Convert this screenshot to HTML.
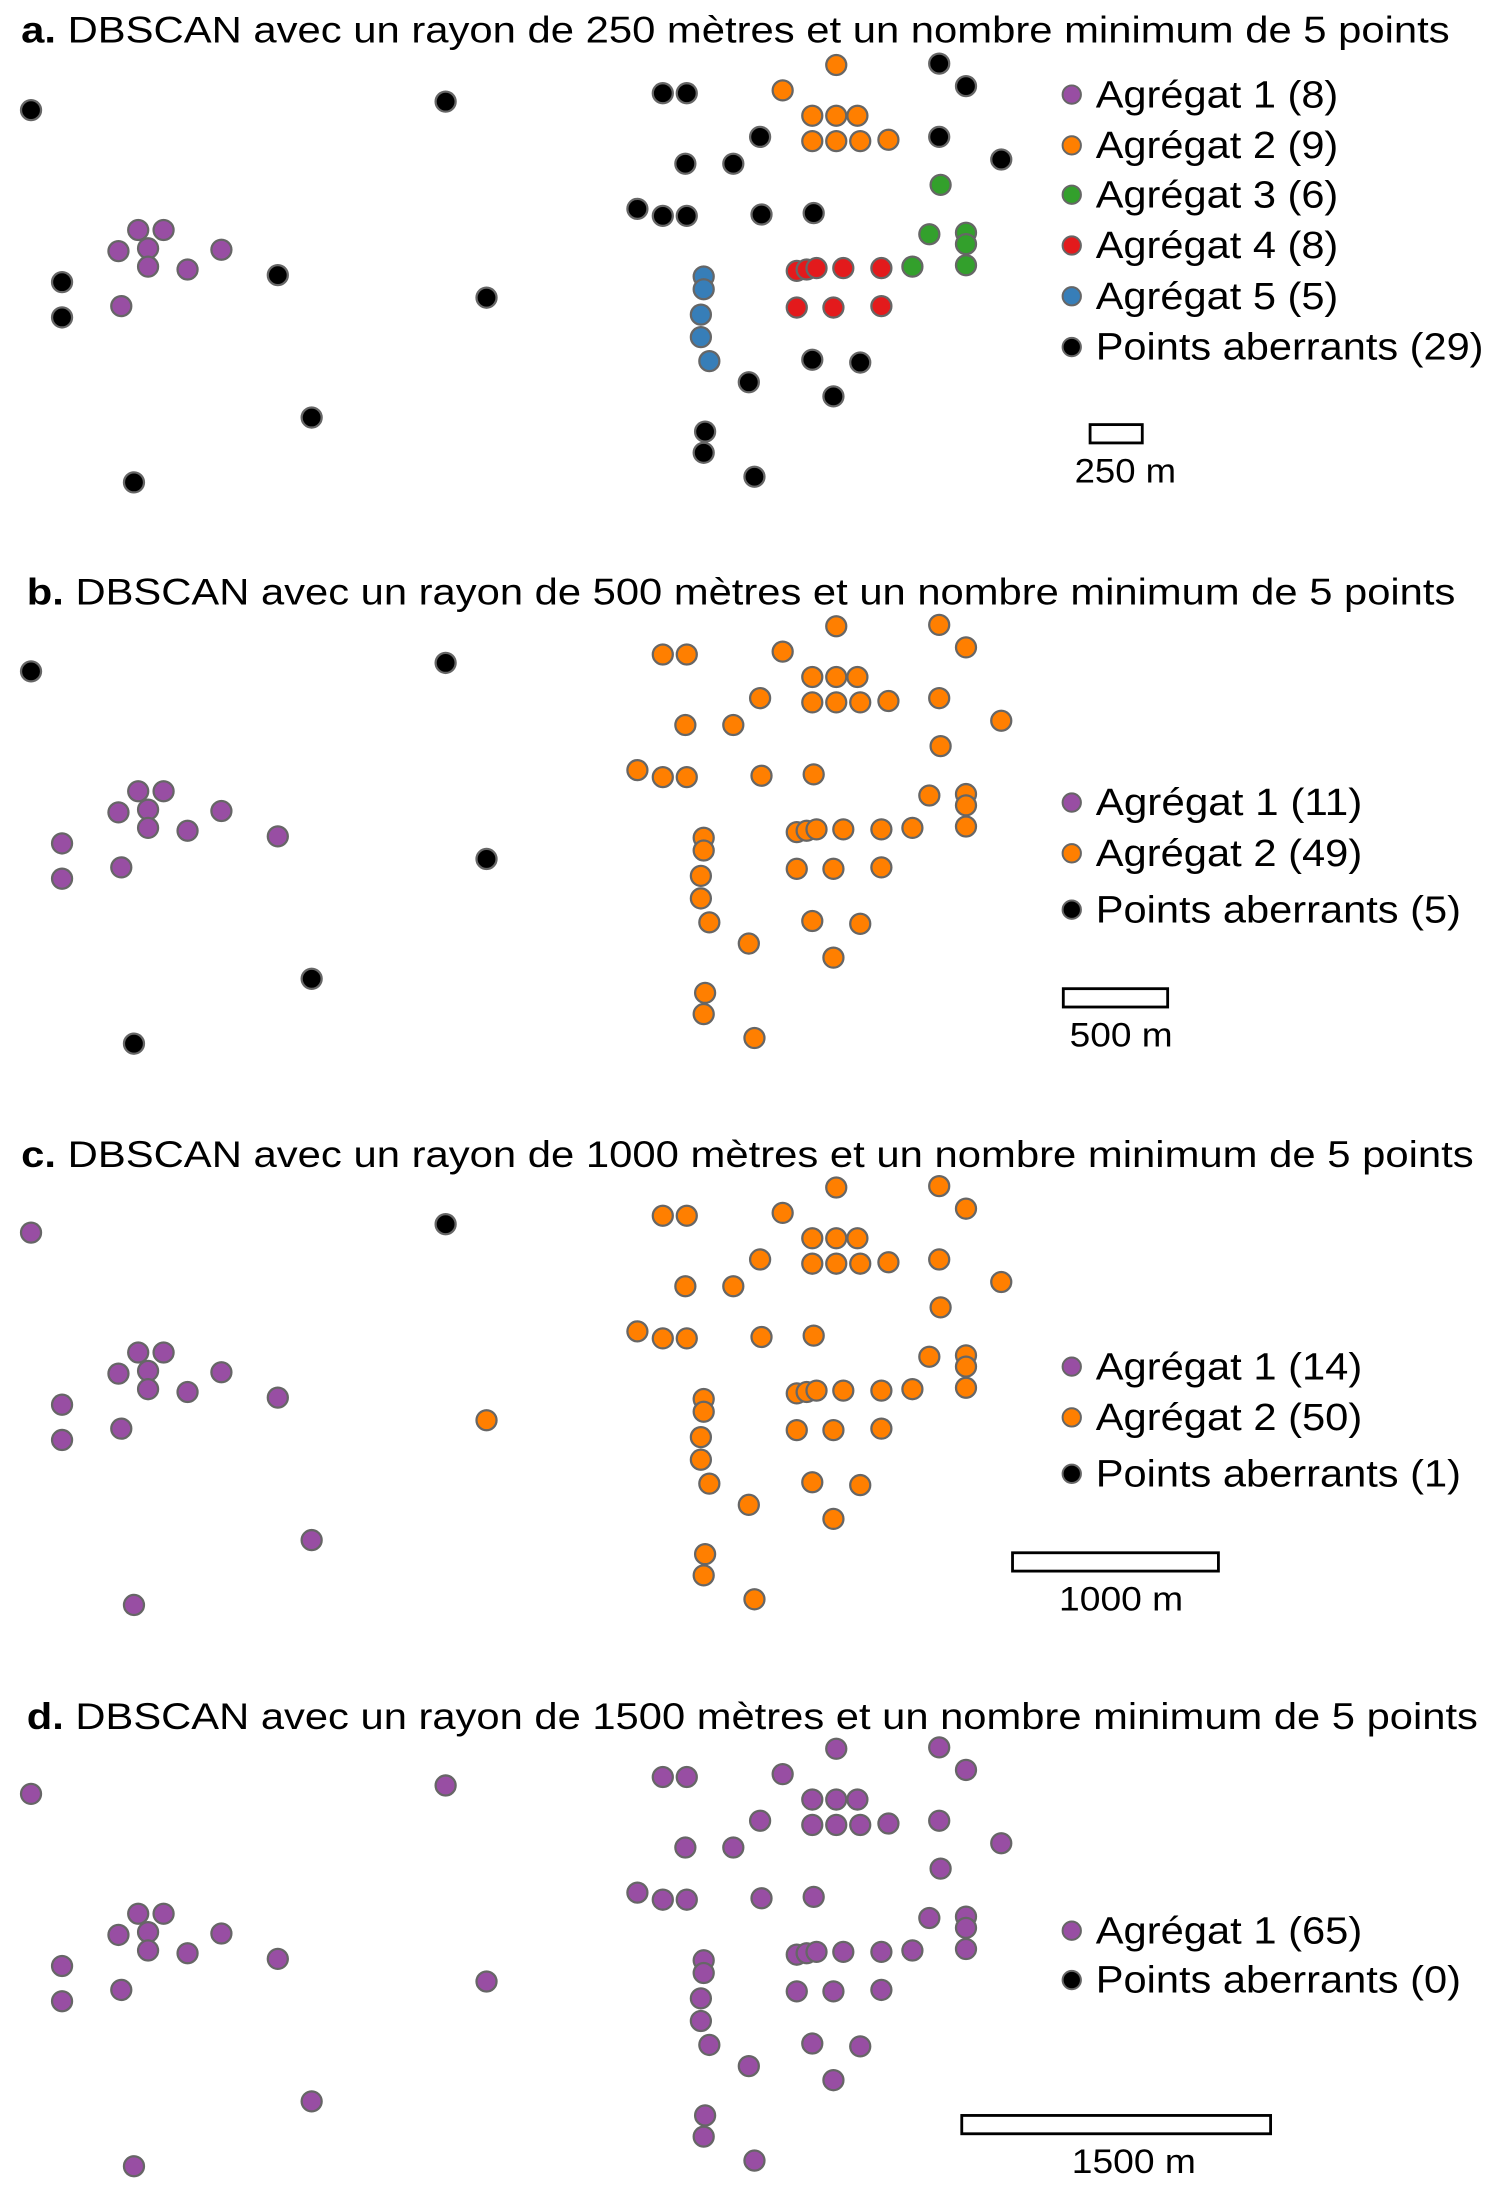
<!DOCTYPE html>
<html><head><meta charset="utf-8"><style>
html,body{margin:0;padding:0;background:#fff;}
svg{display:block;}
text{font-family:"Liberation Sans",Arial,sans-serif;fill:#000;}
</style></head><body>
<svg id="fig" width="1492" height="2203" viewBox="0 0 1058 1562" xmlns="http://www.w3.org/2000/svg"></svg>
<script>
// point coordinates (display units)
const px = [98,116,84,105,157,105,133,86,
  593,555,576,593,608,576,593,610,630,
  667,659,685,685,647,685,
  565,572,579,598,625,565,591,625,
  499,499,497,497,503,
  22,316,470,487,666,685,539,666,710,486,520,452,470,487,540,577,197,44,44,345,221,95,531,576,610,591,500,499,535];
const py = [163,163,178,176,177,189,191,217,
  46,64,82,82,82,100,100,100,99,
  131,166,165,173,189,188,
  192,191,190,190,190,218,218,217,
  196,205,223,239,256,
  78,72,66,66,45,61,97,97,113,116,116,148,153,153,152,151,195,200,225,211,296,342,271,255,257,281,306,321,338];
// cluster labels per panel (0 = outlier)
const labelsA = [1,1,1,1,1,1,1,1, 2,2,2,2,2,2,2,2,2, 3,3,3,3,3,3, 4,4,4,4,4,4,4,4, 5,5,5,5,5,
  0,0,0,0,0,0,0,0,0,0,0,0,0,0,0,0,0,0,0,0,0,0,0,0,0,0,0,0,0];
const labelsB = [1,1,1,1,1,1,1,1, 2,2,2,2,2,2,2,2,2, 2,2,2,2,2,2, 2,2,2,2,2,2,2,2, 2,2,2,2,2,
  0,0,2,2,2,2,2,2,2,2,2,2,2,2,2,2,1,1,1,0,0,0,2,2,2,2,2,2,2];
const labelsC = [1,1,1,1,1,1,1,1, 2,2,2,2,2,2,2,2,2, 2,2,2,2,2,2, 2,2,2,2,2,2,2,2, 2,2,2,2,2,
  1,0,2,2,2,2,2,2,2,2,2,2,2,2,2,2,1,1,1,2,1,1,2,2,2,2,2,2,2];
const labelsD = px.map(()=>1);
const colors = ['#000000','#984ea3','#ff7f00','#33a02c','#e31a1c','#377eb8'];

const titles = [
  ['a.',' DBSCAN avec un rayon de 250 mètres et un nombre minimum de 5 points',15,1013],
  ['b.',' DBSCAN avec un rayon de 500 mètres et un nombre minimum de 5 points',19,1013],
  ['c.',' DBSCAN avec un rayon de 1000 mètres et un nombre minimum de 5 points',15,1030],
  ['d.',' DBSCAN avec un rayon de 1500 mètres et un nombre minimum de 5 points',19,1029]];
const legendA = ['Agrégat 1 (8)','Agrégat 2 (9)','Agrégat 3 (6)','Agrégat 4 (8)','Agrégat 5 (5)','Points aberrants (29)'];
const legendB = ['Agrégat 1 (11)','Agrégat 2 (49)','Points aberrants (5)'];
const legendC = ['Agrégat 1 (14)','Agrégat 2 (50)','Points aberrants (1)'];
const legendD = ['Agrégat 1 (65)','Points aberrants (0)'];
const scaleLabels = ['250 m','500 m','1000 m','1500 m'];

const NS='http://www.w3.org/2000/svg';
const svg=document.getElementById('fig');
function mk(tag,attrs,parent){const e=document.createElementNS(NS,tag);for(const k in attrs)e.setAttribute(k,attrs[k]);(parent||svg).appendChild(e);return e;}

const panels=[
  {labels:labelsA,legend:legendA,lc:[1,2,3,4,5,0],lw:[172,172,172,172,172,275],ly:[67,103,138,174,210,246],bar:[773,810,301],sl:[798,342],slw:72},
  {labels:labelsB,legend:legendB,lc:[1,2,0],lw:[189,189,259],ly:[171,207,247],bar:[754,828,303],sl:[795,344],slw:73},
  {labels:labelsC,legend:legendC,lc:[1,2,0],lw:[189,189,259],ly:[173,209,249],bar:[718,864,305],sl:[795,346],slw:88},
  {labels:labelsD,legend:legendD,lc:[1,0],lw:[189,259],ly:[175,210],bar:[682,901,306],sl:[804,347],slw:88}];

panels.forEach((p,i)=>{
  const g=mk('g',{transform:'translate(0,'+(i*398)+')'});
  
  
  const t=titles[i];
  const tt=mk('text',{x:t[2],y:30+i*0.7,'font-size':26,textLength:t[3],lengthAdjust:'spacingAndGlyphs'},g);
  
  
  const b=mk('tspan',{'font-weight':'bold'},tt);b.textContent=t[0];
  const r=mk('tspan',{},tt);r.textContent=t[1];
  px.forEach((x,k)=>{
    const c=mk('circle',{cx:x,cy:py[k],r:7.1,fill:colors[p.labels[k]],stroke:'#666',"stroke-width":1.6},g);
    
    
  });
  p.legend.forEach((s,k)=>{
    const lc=mk('circle',{cx:760,cy:p.ly[k],r:6.5,fill:colors[p.lc[k]],stroke:'#666',"stroke-width":1.4},g);
    
    
    const lt=mk('text',{x:777,y:p.ly[k]+9,'font-size':27,textLength:p.lw[k],lengthAdjust:'spacingAndGlyphs'},g);
    
    
    lt.textContent=s;
  });
  const bar=mk('rect',{x:p.bar[0],y:p.bar[2],width:p.bar[1]-p.bar[0],height:13,fill:'#fff',stroke:'#000','stroke-width':2},g);
  
  
  const sl=mk('text',{x:p.sl[0]-p.slw/2,y:p.sl[1],'font-size':24,textLength:p.slw,lengthAdjust:'spacingAndGlyphs'},g);
  
  
  sl.textContent=scaleLabels[i];
});
</script>
</body></html>
